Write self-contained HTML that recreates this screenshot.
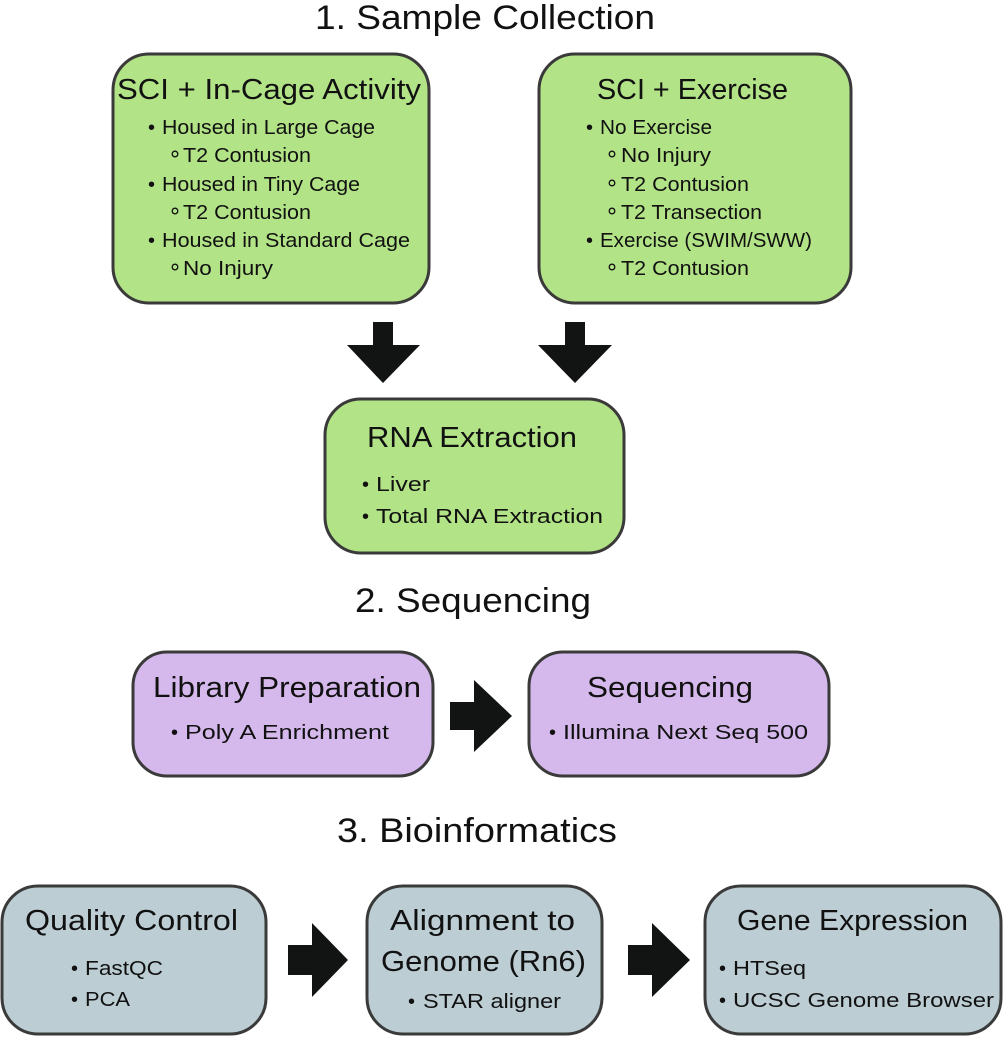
<!DOCTYPE html>
<html><head><meta charset="utf-8"><style>
html,body{margin:0;padding:0;background:#fff;}
svg{display:block;}
text{font-family:"Liberation Sans",sans-serif;fill:#111;}
.h{font-size:34px;}
.t{font-size:29px;}
.b{font-size:20px;}
circle.o{fill:none;stroke:#111;stroke-width:1.3;}
</style></head><body>
<svg width="1003" height="1037" viewBox="0 0 1003 1037" xmlns="http://www.w3.org/2000/svg">
<g stroke="#3a3a3a" stroke-width="3">
<rect x="113" y="54" width="316" height="249" rx="36" fill="#b3e387"/>
<rect x="539" y="54" width="312" height="249" rx="36" fill="#b3e387"/>
<rect x="325" y="399" width="299" height="154" rx="36" fill="#b3e387"/>
<rect x="133" y="652" width="300" height="124" rx="34" fill="#d5b8ec"/>
<rect x="529" y="652" width="300" height="124" rx="34" fill="#d5b8ec"/>
<rect x="2" y="886" width="264" height="148" rx="36" fill="#bccdd4"/>
<rect x="367" y="886" width="235" height="148" rx="36" fill="#bccdd4"/>
<rect x="705" y="886" width="296" height="148" rx="36" fill="#bccdd4"/>
</g>
<g fill="#121413">
<polygon points="373,322 393,322 393,345 420,345 383,383 347,345 373,345"/>
<polygon points="565,322 585,322 585,345 612,345 575,383 538,345 565,345"/>
<polygon points="450,702 474,702 474,680 512,716 474,752 474,730 450,730"/>
<polygon points="288,945 312,945 312,923 348,960 312,997 312,975 288,975"/>
<polygon points="628,945 652,945 652,923 690,960 652,997 652,975 628,975"/>
</g>
<text class="h" x="315" y="29" textLength="340" lengthAdjust="spacingAndGlyphs">1. Sample Collection</text>
<text class="h" x="355" y="612" textLength="236" lengthAdjust="spacingAndGlyphs">2. Sequencing</text>
<text class="h" x="337" y="842" textLength="280" lengthAdjust="spacingAndGlyphs">3. Bioinformatics</text>

<text class="t" x="117" y="99" textLength="304" lengthAdjust="spacingAndGlyphs">SCI + In-Cage Activity</text>
<text class="b" x="148" y="134">•</text><text class="b" x="162" y="134" textLength="213" lengthAdjust="spacingAndGlyphs">Housed in Large Cage</text>
<circle class="o" cx="175" cy="154" r="2.8"/><text class="b" x="183" y="162" textLength="128" lengthAdjust="spacingAndGlyphs">T2 Contusion</text>
<text class="b" x="148" y="191">•</text><text class="b" x="162" y="191" textLength="198" lengthAdjust="spacingAndGlyphs">Housed in Tiny Cage</text>
<circle class="o" cx="175" cy="211" r="2.8"/><text class="b" x="183" y="219" textLength="128" lengthAdjust="spacingAndGlyphs">T2 Contusion</text>
<text class="b" x="148" y="247">•</text><text class="b" x="162" y="247" textLength="248" lengthAdjust="spacingAndGlyphs">Housed in Standard Cage</text>
<circle class="o" cx="175" cy="267" r="2.8"/><text class="b" x="183" y="275" textLength="90" lengthAdjust="spacingAndGlyphs">No Injury</text>

<text class="t" x="597" y="99" textLength="191" lengthAdjust="spacingAndGlyphs">SCI + Exercise</text>
<text class="b" x="586" y="134">•</text><text class="b" x="600" y="134" textLength="112" lengthAdjust="spacingAndGlyphs">No Exercise</text>
<circle class="o" cx="612" cy="154" r="2.8"/><text class="b" x="621" y="162" textLength="90" lengthAdjust="spacingAndGlyphs">No Injury</text>
<circle class="o" cx="612" cy="183" r="2.8"/><text class="b" x="621" y="191" textLength="128" lengthAdjust="spacingAndGlyphs">T2 Contusion</text>
<circle class="o" cx="612" cy="211" r="2.8"/><text class="b" x="621" y="219" textLength="141" lengthAdjust="spacingAndGlyphs">T2 Transection</text>
<text class="b" x="586" y="247">•</text><text class="b" x="600" y="247" textLength="212" lengthAdjust="spacingAndGlyphs">Exercise (SWIM/SWW)</text>
<circle class="o" cx="612" cy="267" r="2.8"/><text class="b" x="621" y="275" textLength="128" lengthAdjust="spacingAndGlyphs">T2 Contusion</text>

<text class="t" x="367" y="447" textLength="210" lengthAdjust="spacingAndGlyphs">RNA Extraction</text>
<text class="b" x="362" y="491">•</text><text class="b" x="376" y="491" textLength="54" lengthAdjust="spacingAndGlyphs">Liver</text>
<text class="b" x="362" y="523">•</text><text class="b" x="376" y="523" textLength="227" lengthAdjust="spacingAndGlyphs">Total RNA Extraction</text>

<text class="t" x="153" y="697" textLength="268" lengthAdjust="spacingAndGlyphs">Library Preparation</text>
<text class="b" x="171" y="739">•</text><text class="b" x="185" y="739" textLength="204" lengthAdjust="spacingAndGlyphs">Poly A Enrichment</text>
<text class="t" x="587" y="697" textLength="166" lengthAdjust="spacingAndGlyphs">Sequencing</text>
<text class="b" x="549" y="739">•</text><text class="b" x="563" y="739" textLength="245" lengthAdjust="spacingAndGlyphs">Illumina Next Seq 500</text>

<text class="t" x="25" y="930" textLength="213" lengthAdjust="spacingAndGlyphs">Quality Control</text>
<text class="b" x="71" y="975">•</text><text class="b" x="85" y="975" textLength="78" lengthAdjust="spacingAndGlyphs">FastQC</text>
<text class="b" x="71" y="1006">•</text><text class="b" x="85" y="1006" textLength="45" lengthAdjust="spacingAndGlyphs">PCA</text>

<text class="t" x="390" y="930" textLength="185" lengthAdjust="spacingAndGlyphs">Alignment to</text>
<text class="t" x="381" y="971" textLength="205" lengthAdjust="spacingAndGlyphs">Genome (Rn6)</text>
<text class="b" x="408" y="1008">•</text><text class="b" x="423" y="1008" textLength="138" lengthAdjust="spacingAndGlyphs">STAR aligner</text>

<text class="t" x="737" y="930" textLength="231" lengthAdjust="spacingAndGlyphs">Gene Expression</text>
<text class="b" x="719" y="975">•</text><text class="b" x="733" y="975" textLength="73" lengthAdjust="spacingAndGlyphs">HTSeq</text>
<text class="b" x="719" y="1007">•</text><text class="b" x="733" y="1007" textLength="261" lengthAdjust="spacingAndGlyphs">UCSC Genome Browser</text>
</svg>
</body></html>
